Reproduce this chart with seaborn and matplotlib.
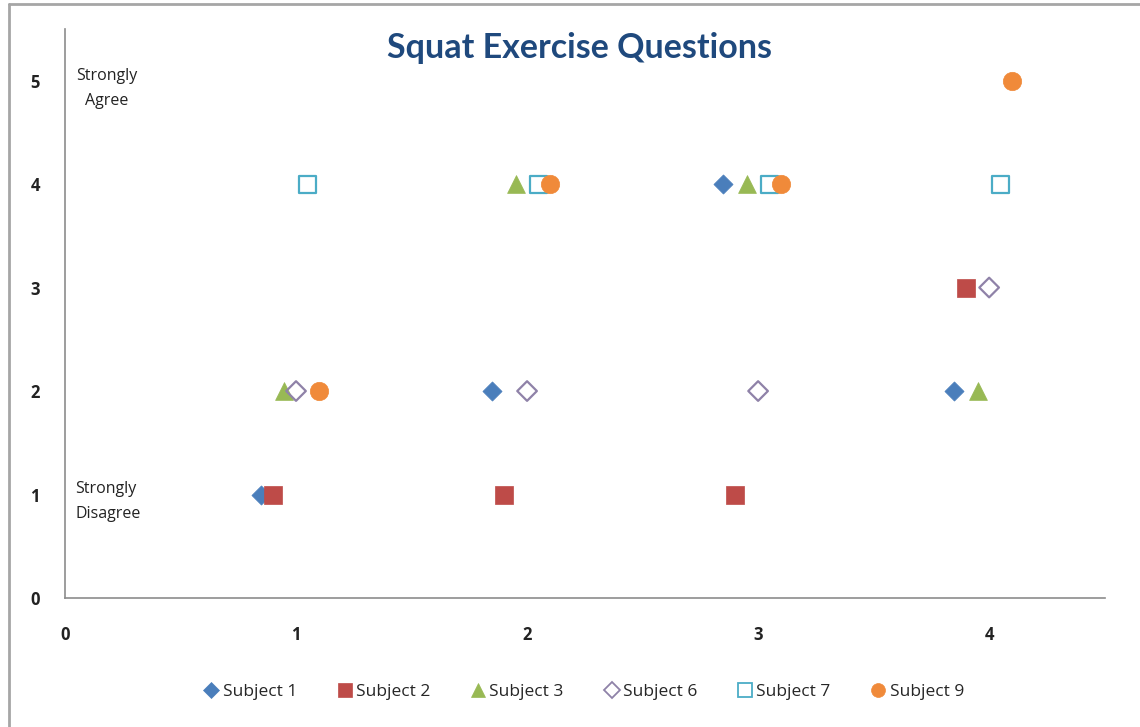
import matplotlib
matplotlib.use("Agg")

import numpy as np
import pandas as pd
import matplotlib.pyplot as plt
import seaborn as sns
from matplotlib.lines import Line2D


# Data


subjects = ["Subject 1", "Subject 2", "Subject 3", "Subject 6", "Subject 7", "Subject 9"]

questions = [1, 2, 3, 4]

# small horizontal offset per subject so markers don't overlap
offsets = [-0.15, -0.10, -0.05, 0.0, 0.05, 0.10]

answers = {
    "Subject 1": [1, 2, 4, 2],
    "Subject 2": [1, 1, 1, 3],
    "Subject 3": [2, 4, 4, 2],
    "Subject 6": [2, 2, 2, 3],
    "Subject 7": [4, 4, 4, 4],
    "Subject 9": [2, 4, 4, 5],
}

colors = ["#4A7EBB", "#BE4B48", "#98B954", "#8F82A8", "#4BACC6", "#F08A3A"]
markers = ["D", "s", "^", "D", "s", "o"]
hollow = [False, False, False, True, True, False]
sizes = [95, 150, 165, 100, 150, 175]

rows = []
for subject, off in zip(subjects, offsets):
    for q, a in zip(questions, answers[subject]):
        rows.append({"Subject": subject, "Question": q + off, "Answer": a})

df = pd.DataFrame(rows)


# Plot


sns.set_style("white")
plt.rcParams["font.family"] = ["Open Sans", "DejaVu Sans"]

fig = plt.figure(figsize=(11.4, 7.27), dpi=100)

ax = fig.add_axes([0.057, 0.1774, 0.912, 0.783])

for subject, c, m, h, s in zip(subjects, colors, markers, hollow, sizes):

    sub = df[df["Subject"] == subject]

    if h:
        sns.scatterplot(
            data=sub, x="Question", y="Answer", ax=ax,
            marker=m, s=s, facecolor="none",
            edgecolor=c, linewidth=1.6, zorder=3
        )
    else:
        sns.scatterplot(
            data=sub, x="Question", y="Answer", ax=ax,
            marker=m, s=s, color=c, edgecolor=c,
            linewidth=0.5, zorder=3
        )

ax.set_xlim(0, 4.5)
ax.set_ylim(0, 5.5)

ax.set_xticks([0, 1, 2, 3, 4])
ax.set_yticks([0, 1, 2, 3, 4, 5])

ax.tick_params(axis="x", length=0, pad=20, labelsize=12, colors="#222222")
ax.tick_params(axis="y", length=0, pad=18, labelsize=12, colors="#222222")

for lab in ax.get_xticklabels() + ax.get_yticklabels():
    lab.set_fontweight("bold")

ax.set_xlabel("")
ax.set_ylabel("")

sns.despine(ax=ax, top=True, right=True)

for side in ["left", "bottom"]:
    ax.spines[side].set_color("#8C8C8C")
    ax.spines[side].set_linewidth(1.2)

ax.text(
    0.18, 4.92, "Strongly\nAgree",
    ha="center", va="center", multialignment="center",
    fontsize=11.5, color="#222222", linespacing=1.75
)

ax.text(
    0.045, 0.93, "Strongly\nDisagree",
    ha="left", va="center", multialignment="left",
    fontsize=11.5, color="#222222", linespacing=1.75
)

fig.text(
    0.508, 0.934, "Squat Exercise Questions",
    ha="center", va="center", fontsize=24.5, fontweight="bold",
    color="#1F497D", family=["Lato", "DejaVu Sans"]
)


# Legend


handles = []
for subject, c, m, h in zip(subjects, colors, markers, hollow):
    ms = 10 if m != "D" else 8
    handles.append(
        Line2D(
            [], [], linestyle="none", marker=m, markersize=ms,
            markerfacecolor="none" if h else c,
            markeredgecolor=c, markeredgewidth=1.3 if h else 0.5,
            label=subject
        )
    )

fig.legend(
    handles=handles, loc="center", bbox_to_anchor=(0.512, 0.048),
    ncol=6, frameon=False, fontsize=12.5, handlelength=0.9,
    handletextpad=0.2, columnspacing=2.3
)


# Border (top and left only, like the original)


fig.add_artist(Line2D([0.008, 1.0], [0.995, 0.995], color="#A6A6A6", linewidth=2, transform=fig.transFigure))
fig.add_artist(Line2D([0.008, 0.008], [0.0, 0.995], color="#A6A6A6", linewidth=2, transform=fig.transFigure))

fig.savefig("out.png", dpi=100)

print("Saved out.png")
